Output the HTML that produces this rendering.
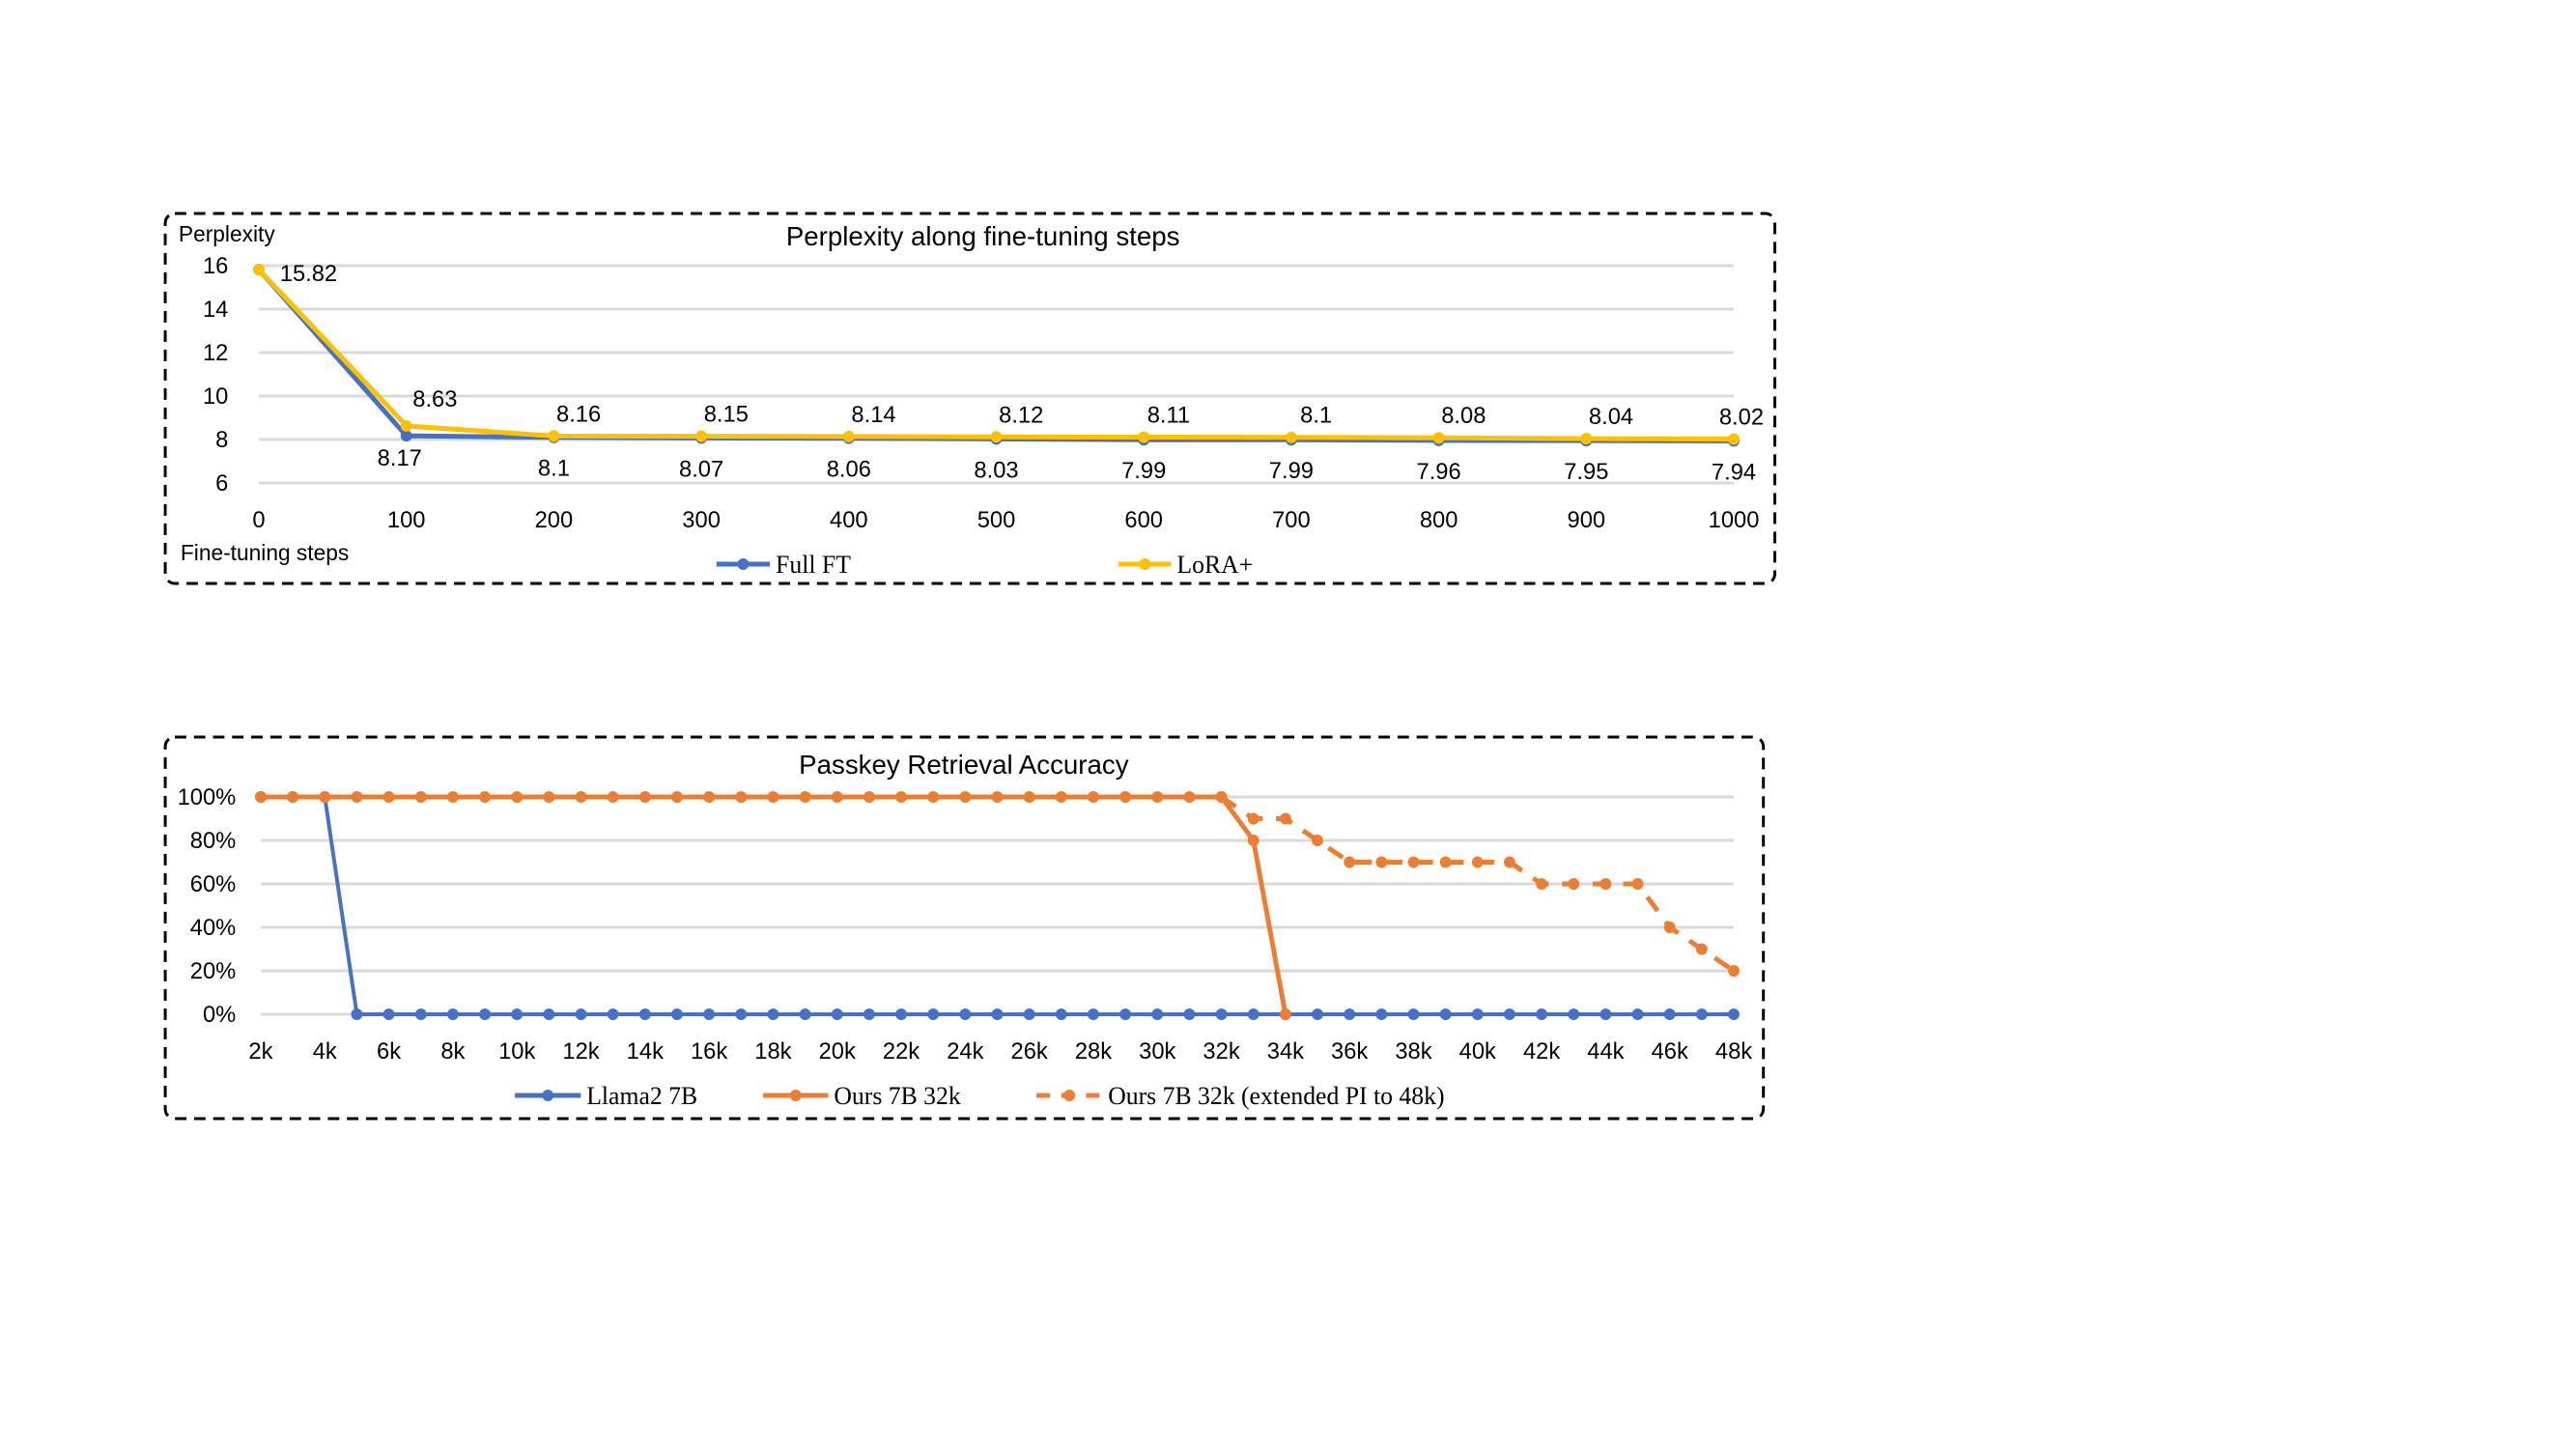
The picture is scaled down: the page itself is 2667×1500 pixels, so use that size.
<!DOCTYPE html>
<html><head><meta charset="utf-8"><style>
html,body{margin:0;padding:0;background:#fff;}
svg{display:block;}
.t{font-family:"Liberation Sans",sans-serif;fill:#000;}
.s{font-family:"Liberation Serif",serif;fill:#000;}
</style></head><body>
<svg id="svg" width="2667" height="1500" viewBox="0 0 2667 1500" xmlns="http://www.w3.org/2000/svg">
<g transform="translate(268,0) scale(0.989,1) translate(-268,0)">
<rect x="170" y="221" width="1685" height="383" rx="10" fill="none" stroke="#000" stroke-width="3" stroke-dasharray="12,8"/>
<rect x="170" y="763" width="1673" height="395" rx="10" fill="none" stroke="#000" stroke-width="3" stroke-dasharray="12,8"/>
<g id="c1"></g>
<g id="c2"></g>
</g>
</svg>
<script>
// ---- Chart 1 data ----
const steps = [0,100,200,300,400,500,600,700,800,900,1000];
const fullFT = [15.82,8.17,8.1,8.07,8.06,8.03,7.99,7.99,7.96,7.95,7.94];
const loraPlus = [15.82,8.63,8.16,8.15,8.14,8.12,8.11,8.1,8.08,8.04,8.02];
const yTicks1 = [6,8,10,12,14,16];
// ---- Chart 2 data ----
const ctx = [2,3,4,5,6,7,8,9,10,11,12,13,14,15,16,17,18,19,20,21,22,23,24,25,26,27,28,29,30,31,32,33,34,35,36,37,38,39,40,41,42,43,44,45,46,47,48];
const llama = [100,100,100,0,0,0,0,0,0,0,0,0,0,0,0,0,0,0,0,0,0,0,0,0,0,0,0,0,0,0,0,0,0,0,0,0,0,0,0,0,0,0,0,0,0,0,0];
const ours = [100,100,100,100,100,100,100,100,100,100,100,100,100,100,100,100,100,100,100,100,100,100,100,100,100,100,100,100,100,100,100,80,0];
const oursExtX = [32,33,34,35,36,37,38,39,40,41,42,43,44,45,46,47,48];
const oursExt = [100,90,90,80,70,70,70,70,70,70,60,60,60,60,40,30,20];
const yTicks2 = [0,20,40,60,80,100];
const xTicks2 = [2,4,6,8,10,12,14,16,18,20,22,24,26,28,30,32,34,36,38,40,42,44,46,48];

const NS="http://www.w3.org/2000/svg";
function mk(parent,tag,attrs,text){const e=document.createElementNS(NS,tag);for(const k in attrs)e.setAttribute(k,attrs[k]);if(text!==undefined)e.textContent=text;parent.appendChild(e);return e;}

// Chart 1
const g1=document.getElementById('c1');
const x1=v=>268+(v/1000)*1544;
const y1=v=>500-(v-6)*22.5;
yTicks1.forEach(t=>{
  const l=mk(g1,'line',{x1:268,x2:1812,y1:y1(t),y2:y1(t),stroke:'#d9d9d9','stroke-width':3});
  
  
  const tx=mk(g1,'text',{x:236,y:y1(t)+8,'text-anchor':'end','font-size':24,class:'t'},String(t));
  
  
});
steps.forEach(s=>{
  const tx=mk(g1,'text',{x:x1(s),y:546,'text-anchor':'middle','font-size':24,class:'t'},String(s));
  
  
});
function series(g,xs,ys,xf,yf,color,w,dash,name){
  const pts=xs.map((x,i)=>xf(x)+','+yf(ys[i])).join(' ');
  const attrs={points:pts,fill:'none',stroke:color,'stroke-width':w,'stroke-linejoin':'round'};
  if(dash)attrs['stroke-dasharray']=dash;
  const p=mk(g,'polyline',attrs);
  
  
  xs.forEach((x,i)=>{
    const c=mk(g,'circle',{cx:xf(x),cy:yf(ys[i]),r:6,fill:color});
    
    
  });
}
series(g1,steps,fullFT,x1,y1,'#4472c4',5,null,'full-ft');
series(g1,steps,loraPlus,x1,y1,'#ffc000',5,null,'lora-plus');
loraPlus.forEach((v,i)=>{
  let tx;
  if(i===0) tx=mk(g1,'text',{x:x1(steps[i])+22,y:y1(v)+12,'font-size':24,class:'t'},String(v));
  else if(i===1) tx=mk(g1,'text',{x:x1(steps[i])+30,y:y1(v)-20,'text-anchor':'middle','font-size':24,class:'t'},String(v));
  else if(i===steps.length-1) tx=mk(g1,'text',{x:x1(steps[i])+8,y:y1(v)-15,'text-anchor':'middle','font-size':24,class:'t'},String(v));
  else tx=mk(g1,'text',{x:x1(steps[i])+26,y:y1(v)-15,'text-anchor':'middle','font-size':24,class:'t'},String(v));
  
  
});
fullFT.forEach((v,i)=>{
  if(i===0)return;
  const dy = i===1?31:40;
  const tx=mk(g1,'text',{x:x1(steps[i])+ (i===1?-7:0),y:y1(v)+dy,'text-anchor':'middle','font-size':24,class:'t'},String(v));
  
  
});
let e;
e=mk(g1,'text',{x:1026,y:254,'text-anchor':'middle','font-size':28,class:'t'},'Perplexity along fine-tuning steps');

e=mk(g1,'text',{x:184,y:250,'font-size':23,class:'t'},'Perplexity');

e=mk(g1,'text',{x:186,y:580,'font-size':23,class:'t'},'Fine-tuning steps');

function legend(g,x0,x1_,y,color,label,dash,name){
  const l=mk(g,'line',{x1:x0,x2:x1_,y1:y,y2:y,stroke:color,'stroke-width':5});
  if(dash)l.setAttribute('stroke-dasharray',dash);
  
  
  const c=mk(g,'circle',{cx:(x0+x1_)/2,cy:y,r:6,fill:color});
  
  
  const t=mk(g,'text',{x:x1_+6,y:y+9,'font-size':26,class:'s'},label);
  
  
}
legend(g1,747,803,584,'#4472c4','Full FT',null,'full-ft');
legend(g1,1168,1223,584,'#ffc000','LoRA+',null,'lora-plus');

// Chart 2
const g2=document.getElementById('c2');
const x2=v=>270+(v-2)*(1542/46);
const y2=v=>1050-v*2.25;
yTicks2.forEach(t=>{
  const l=mk(g2,'line',{x1:270,x2:1812,y1:y2(t),y2:y2(t),stroke:'#d9d9d9','stroke-width':3});
  
  
  const tx=mk(g2,'text',{x:244,y:y2(t)+8,'text-anchor':'end','font-size':24,class:'t'},t+'%');
  
  
});
xTicks2.forEach(k=>{
  const tx=mk(g2,'text',{x:x2(k),y:1096,'text-anchor':'middle','font-size':24,class:'t'},k+'k');
  
  
});
series(g2,ctx,llama,x2,y2,'#4472c4',4,null,'llama2-7b');
series(g2,ctx.slice(0,ours.length),ours,x2,y2,'#ed7d31',5,null,'ours-7b-32k');
series(g2,oursExtX,oursExt,x2,y2,'#ed7d31',5,'18,14','ours-extended');
e=mk(g2,'text',{x:1006,y:801,'text-anchor':'middle','font-size':28,class:'t'},'Passkey Retrieval Accuracy');

legend(g2,536,605,1134,'#4472c4','Llama2 7B',null,'llama2-7b');
legend(g2,796,864,1134,'#ed7d31','Ours 7B 32k',null,'ours-7b-32k');
legend(g2,1082,1151,1134,'#ed7d31','Ours 7B 32k (extended PI to 48k)','14,12','ours-extended');
</script>
</body></html>
